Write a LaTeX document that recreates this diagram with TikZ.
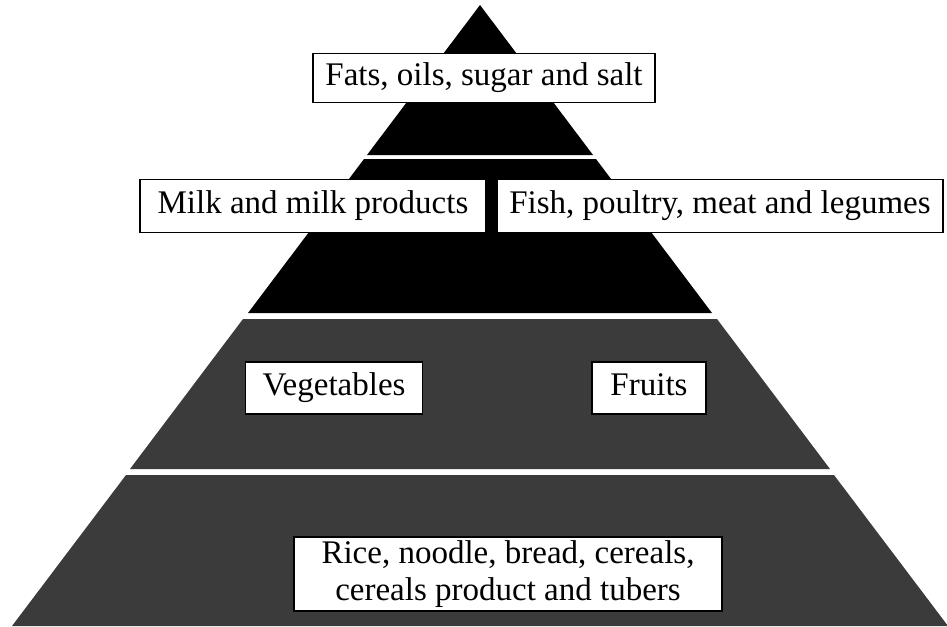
\documentclass[tikz,border=0pt]{standalone}
\usepackage{fontspec}
\setmainfont{Liberation Serif}

\begin{document}
\begin{tikzpicture}[x=1pt, y=-1pt, font=\fontsize{33}{37}\selectfont,
  foodbox/.style={draw, fill=white, line width=1.5pt, inner sep=0pt, align=center},
  linebox/.style={foodbox, text height=23pt, text depth=8pt},
  tierdark/.style={fill=black},
  tiergray/.style={fill=black!77}]
\useasboundingbox (0,0) rectangle (947,626);
% the four tiers, apex down to the base
\fill[tierdark] (480,5) -- (593,155) -- (367,155) -- cycle;
\fill[tierdark] (364,159) -- (596,159) -- (712,313) -- (248,313) -- cycle;
\fill[tiergray] (243,319) -- (717,319) -- (830,469) -- (130,469) -- cycle;
\fill[tiergray] (126,475) -- (834,475) -- (948,626) -- (12,626) -- cycle;
% top tier
\node[linebox, minimum width=342, minimum height=49] (fats) at (484,78) {Fats, oils, sugar and salt};
% second tier
\node[linebox, minimum width=346, minimum height=53] (milk) at (313,206) {Milk and milk products};
\node[linebox, minimum width=446, minimum height=53] (fish) at (720,206) {Fish, poultry, meat and legumes};
% third tier
\node[linebox, minimum width=177, minimum height=52] (veg) at (334,388) {Vegetables};
\node[linebox, minimum width=114, minimum height=52] (fruit) at (649,388) {Fruits};
% base tier
\node[foodbox, minimum width=428, minimum height=74] (rice) at (508,574) {Rice, noodle, bread, cereals,\\cereals product and tubers};
\end{tikzpicture}
\end{document}
